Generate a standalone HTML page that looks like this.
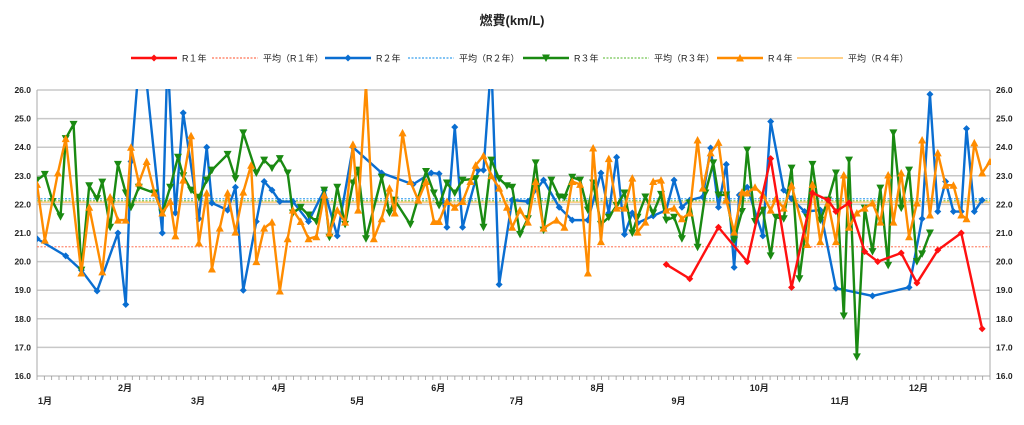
<!DOCTYPE html>
<html><head><meta charset="utf-8"><style>
html,body{margin:0;padding:0;background:#fff;}
svg text{font-family:"Liberation Sans","Noto Sans CJK JP",sans-serif;}
</style></head><body>
<svg id="chart" width="1024" height="420" viewBox="0 0 1024 420" xmlns="http://www.w3.org/2000/svg">
<text x="512" y="25" text-anchor="middle" font-size="13" font-weight="bold" fill="#222">燃費(km/L)</text>
<g id="legend"></g>
<g id="grid"></g>
<g id="axes"></g>
<defs><clipPath id="clip"><rect x="37" y="89" width="954" height="288"/></clipPath></defs>
<g id="series" clip-path="url(#clip)"></g>
</svg>
<script>
const yTicks=[16,17,18,19,20,21,22,23,24,25,26];
const monthLabels=['1月','2月','3月','4月','5月','6月','7月','8月','9月','10月','11月','12月'];
const monthStarts=[0,31,59,90,120,151,181,212,243,273,304,334];
const r1Days=[241,250,261,272,281,289,297,303,306,311,317,322,331,337,345,354,362];
const r1Vals=[19.9,19.4,21.2,20.0,23.6,19.1,22.4,22.15,21.75,22.05,20.35,20.0,20.3,19.25,20.4,21.0,17.65];
const r2Days=[0,11,17,23,31,34,36,40,48,50,53,56,62,65,67,73,76,79,84,87,90,93,98,104,110,115,121,132,144,151,154,157,160,163,169,171,174,177,182,188,194,200,205,211,216,219,222,225,228,230,236,241,244,247,250,255,258,261,264,267,269,272,278,281,286,289,294,300,306,320,334,339,342,345,348,351,354,356,359,362];
const r2Vals=[20.8,20.2,19.7,18.97,21.0,18.5,23.5,28.0,21.0,27.2,21.7,25.2,21.5,24.0,22.05,21.8,22.6,19.0,21.4,22.8,22.5,22.1,22.1,21.4,22.5,20.9,24.0,23.1,22.7,23.1,23.07,21.2,24.7,21.2,23.2,23.2,27.0,19.2,22.15,22.1,22.85,21.9,21.45,21.45,23.1,21.7,23.65,20.95,21.7,21.35,21.6,21.8,22.85,21.9,22.15,22.26,23.97,21.9,23.4,19.8,22.33,22.6,20.9,24.9,22.5,22.2,21.75,21.8,19.07,18.8,19.1,21.5,25.85,21.75,22.8,21.75,21.75,24.65,21.75,22.15];
const r3Days=[0,3,6,9,11,14,17,20,23,25,28,31,34,36,39,45,48,51,54,56,59,62,65,67,73,76,79,84,87,90,93,96,98,101,104,107,110,112,115,118,121,123,126,132,135,137,143,149,152,154,157,160,163,168,171,174,177,180,182,185,188,191,194,197,200,202,205,208,211,213,216,219,222,225,228,230,233,236,239,241,244,247,250,253,256,259,261,264,267,270,272,275,278,281,283,286,289,292,295,297,300,303,306,309,311,314,317,320,323,326,328,331,334,337,339,342];
const r3Vals=[22.85,23.05,22.1,21.57,24.3,24.8,19.7,22.65,22.2,22.78,21.2,23.4,22.4,21.9,22.6,22.4,21.7,22.6,23.65,23.0,22.5,22.25,22.85,23.2,23.75,22.9,24.5,23.1,23.55,23.27,23.6,23.1,21.7,21.9,21.63,21.4,22.5,20.85,22.6,21.3,22.75,23.2,20.8,22.95,21.7,22.15,21.3,23.15,22.4,21.96,22.75,22.4,22.85,22.9,21.2,23.55,22.9,22.65,22.6,20.95,21.5,23.45,21.1,22.85,22.26,22.25,22.95,22.85,21.8,22.75,21.3,21.55,21.96,22.4,21.0,21.55,22.26,21.7,22.35,21.45,21.55,20.8,22.05,20.5,22.4,23.45,22.33,22.33,20.75,21.75,23.9,21.4,21.8,20.2,21.55,21.5,23.27,19.4,21.55,23.4,21.45,22.15,23.1,18.1,23.55,16.67,21.87,20.35,22.57,19.87,24.5,21.87,23.2,20.0,20.27,21.0];
const r4Days=[0,3,8,11,17,20,25,28,31,34,36,39,42,45,48,51,53,56,59,62,65,67,70,73,76,79,82,84,87,90,93,96,98,101,104,107,110,112,115,118,121,123,126,129,132,135,137,140,143,146,149,152,154,157,160,163,166,168,171,174,177,180,182,185,188,191,194,199,202,205,208,211,213,216,219,222,225,228,230,233,236,239,241,244,247,250,253,255,258,261,264,267,270,272,275,278,281,283,286,289,295,297,300,303,306,309,311,314,317,320,323,326,328,331,334,337,339,342,345,348,351,354,356,359,362,365];
const r4Vals=[22.7,20.75,23.1,24.3,19.6,21.9,19.64,22.26,21.45,21.45,24.0,22.75,23.5,22.4,21.7,22.1,20.9,22.85,24.4,20.65,22.4,19.74,21.17,22.4,21.03,22.43,23.37,20.0,21.17,21.38,18.97,20.8,21.8,21.4,20.8,20.87,22.33,21.0,21.8,21.38,24.1,21.8,26.2,20.8,21.5,22.57,21.7,24.5,22.8,22.15,22.8,21.4,21.4,22.1,21.9,22.1,22.8,23.37,23.7,23.0,22.57,21.9,21.2,21.8,21.38,22.8,21.17,21.45,21.2,22.8,22.7,19.6,23.97,20.7,23.6,21.87,21.87,22.92,21.03,21.38,22.8,22.85,21.8,21.87,21.5,21.7,24.25,22.57,23.8,24.17,22.15,21.03,22.43,22.4,22.6,22.33,21.8,22.2,21.87,22.67,20.6,22.7,20.7,22.05,20.7,23.03,21.2,21.7,21.87,22.05,21.38,23.03,21.38,23.1,20.87,22.05,24.25,21.63,23.8,22.67,22.67,21.63,21.5,24.15,23.1,23.5];
const averages=[20.52,22.2,22.13,22.08];

const NS='http://www.w3.org/2000/svg';
const X0=37,X1=990,Y0=376,Y1=90;
const xs=d=>X0+d*(X1-X0)/365;
const ys=v=>Y0-(v-16)*(Y0-Y1)/10;
function mk(tag,attrs,parent){const e=document.createElementNS(NS,tag);for(const k in attrs)e.setAttribute(k,attrs[k]);parent.appendChild(e);return e;}
const grid=document.getElementById('grid'),axes=document.getElementById('axes'),ser=document.getElementById('series'),leg=document.getElementById('legend');

yTicks.forEach(t=>{
  const l=mk('line',{x1:X0,x2:X1,y1:ys(t),y2:ys(t),stroke:'#c8c8c8','stroke-width':1.5},grid);
  
  
  const a=mk('text',{x:31,y:ys(t)+3,'text-anchor':'end','font-size':8.5,'font-weight':'bold',fill:'#222'},axes);
  a.textContent=t.toFixed(1);
  
  
  const b=mk('text',{x:996,y:ys(t)+3,'font-size':8.5,'font-weight':'bold',fill:'#222'},axes);
  b.textContent=t.toFixed(1);
  
  
});
mk('line',{x1:X0,x2:X0,y1:Y1,y2:Y0,stroke:'#aaa','stroke-width':1},axes);
mk('line',{x1:X1,x2:X1,y1:Y1,y2:Y0,stroke:'#aaa','stroke-width':1},axes);
for(let i=0;i<=130;i++){const x=X0+i*(X1-X0)/130;mk('line',{x1:x,x2:x,y1:Y0,y2:Y0+4,stroke:'#999','stroke-width':0.8},axes);}
monthLabels.forEach((m,i)=>{
  const t=mk('text',{x:xs(monthStarts[i])+(i===0?1:0),y:i%2?391:404,'font-size':9,'font-weight':'bold',fill:'#222'},axes);
  t.textContent=m;
  
  
});

const colors=['#ff1010','#0a6ed1','#1a8a12','#ff8c00'];
const avgColors=['#ff8a70','#5ab0f0','#8ccf70','#ffc060'];
const avgDash=['2,1.5','2,1.5','2,1.5',''];
averages.forEach((a,i)=>{
  const l=mk('line',{x1:X0,x2:X1,y1:ys(a),y2:ys(a),stroke:avgColors[i],'stroke-width':1.3},ser);
  if(avgDash[i])l.setAttribute('stroke-dasharray',avgDash[i]);
  
  
});
function marker(type,x,y,c,g){
  let e;
  if(type==='d')e=mk('polygon',{points:`${x},${y-3.5} ${x+3.5},${y} ${x},${y+3.5} ${x-3.5},${y}`,fill:c},g);
  else if(type==='v')e=mk('polygon',{points:`${x-4},${y-3.5} ${x+4},${y-3.5} ${x},${y+4}`,fill:c},g);
  else e=mk('polygon',{points:`${x-4},${y+3.5} ${x+4},${y+3.5} ${x},${y-4}`,fill:c},g);
  return e;
}
const sets=[[r2Days,r2Vals,'d'],[r3Days,r3Vals,'v'],[r4Days,r4Vals,'t'],[r1Days,r1Vals,'d']];
const cidx=[1,2,3,0];
sets.forEach((s,k)=>{
  const c=colors[cidx[k]];
  const g=mk('g',{},ser);
  
  
  const pts=s[0].map((d,i)=>xs(d)+','+ys(s[1][i])).join(' ');
  mk('polyline',{points:pts,fill:'none',stroke:c,'stroke-width':2.4,'stroke-linejoin':'round'},g);
  s[0].forEach((d,i)=>{
    const m=marker(s[2],xs(d),ys(s[1][i]),c,g);
    
    
  });
});

const legItems=[
 ['R１年',0,false,'d',131],['平均（R１年）',0,true,'',212],
 ['R２年',1,false,'d',325],['平均（R２年）',1,true,'',408],
 ['R３年',2,false,'v',523],['平均（R３年）',2,true,'',603],
 ['R４年',3,false,'t',717],['平均（R４年）',3,true,'',797]];
legItems.forEach(it=>{
  const g=mk('g',{},leg);
  
  
  const x=it[4],y=58;
  if(it[2]){const l=mk('line',{x1:x,x2:x+46,y1:y,y2:y,stroke:avgColors[it[1]],'stroke-width':1.5},g);if(avgDash[it[1]])l.setAttribute('stroke-dasharray',avgDash[it[1]]);}
  else{mk('line',{x1:x,x2:x+46,y1:y,y2:y,stroke:colors[it[1]],'stroke-width':2.5},g);marker(it[3],x+23,y,colors[it[1]],g);}
  const t=mk('text',{x:x+51,y:y+3.5,'font-size':9,fill:'#222'},g);
  t.textContent=it[0];
});
</script>
</body></html>
